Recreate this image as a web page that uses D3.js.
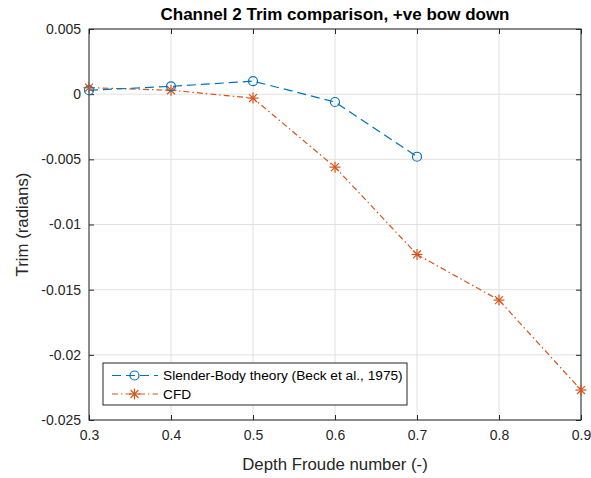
<!DOCTYPE html>
<html>
<head>
<meta charset="utf-8">
<script src="https://cdn.jsdelivr.net/npm/d3@7"></script>
<style>
  html, body { margin: 0; padding: 0; background: #fff; }
  svg { display: block; font-family: "Liberation Sans", Arial, Helvetica, sans-serif; }
</style>
</head>
<body>
<svg id="chart" width="591" height="478"></svg>
<script>
// Depth Froude numbers and trim values (radians, +ve bow down)
const froudeSBT = [0.3, 0.4, 0.5, 0.6, 0.7];
const trimSBT   = [0.0003, 0.0006, 0.001, -0.0006, -0.0048];
const froudeCFD = [0.3, 0.4, 0.5, 0.6, 0.7, 0.8, 0.9];
const trimCFD   = [0.0005, 0.0003, -0.0003, -0.0056, -0.0123, -0.0158, -0.0227];
const xTicks = [0.3, 0.4, 0.5, 0.6, 0.7, 0.8, 0.9];
const yTicks = [0.005, 0, -0.005, -0.01, -0.015, -0.02, -0.025];
const seriesNames = ["Slender-Body theory (Beck et al., 1975)", "CFD"];

const plotL = 89, plotR = 581, plotT = 29, plotB = 420;
const svg = d3.select("#chart");

const x = d3.scaleLinear().domain([0.3, 0.9]).range([plotL, plotR]);
const y = d3.scaleLinear().domain([-0.025, 0.005]).range([plotB, plotT]);

// grid
const grid = svg.append("g").attr("stroke", "#e0e0e0").attr("stroke-width", 1);
xTicks.forEach(t => grid.append("line")
  .attr("x1", x(t)).attr("x2", x(t)).attr("y1", plotT).attr("y2", plotB));
yTicks.forEach(t => grid.append("line")
  .attr("x1", plotL).attr("x2", plotR).attr("y1", y(t)).attr("y2", y(t)));

// axes with inward ticks on all four sides
const fmt = d => d === 0 ? "0" : String(+d.toFixed(3));
const axisColor = "#262626";
function styleAxis(g) {
  g.selectAll(".domain").remove();
  g.selectAll(".tick line").attr("stroke", axisColor);
  g.selectAll(".tick text").attr("fill", axisColor).attr("font-size", 14)
    .attr("font-family", "Liberation Sans, Arial, sans-serif");
}
svg.append("g").attr("transform", `translate(0,${plotB})`)
  .call(d3.axisBottom(x).tickValues(xTicks).tickFormat(d => d.toFixed(1)).tickSizeInner(-5).tickSizeOuter(0).tickPadding(10))
  .call(styleAxis);
svg.append("g").attr("transform", `translate(0,${plotT})`)
  .call(d3.axisTop(x).tickValues(xTicks).tickFormat("").tickSizeInner(-5).tickSizeOuter(0))
  .call(styleAxis);
svg.append("g").attr("transform", `translate(${plotL},0)`)
  .call(d3.axisLeft(y).tickValues(yTicks).tickFormat(fmt).tickSizeInner(-5).tickSizeOuter(0).tickPadding(8))
  .call(styleAxis);
svg.append("g").attr("transform", `translate(${plotR},0)`)
  .call(d3.axisRight(y).tickValues(yTicks).tickFormat("").tickSizeInner(-5).tickSizeOuter(0))
  .call(styleAxis);

svg.append("rect").attr("x", plotL).attr("y", plotT)
  .attr("width", plotR - plotL).attr("height", plotB - plotT)
  .attr("fill", "none").attr("stroke", axisColor).attr("stroke-width", 1);

// series
const blue = "#0072BD", orange = "#D95319";
const line = d3.line().x(d => x(d[0])).y(d => y(d[1]));
const sbt = froudeSBT.map((f, i) => [f, trimSBT[i]]);
const cfd = froudeCFD.map((f, i) => [f, trimCFD[i]]);

function star(g, cx, cy, r, color) {
  const p = g.append("g").attr("stroke", color).attr("stroke-width", 1.2);
  p.append("line").attr("x1", cx - r).attr("x2", cx + r).attr("y1", cy).attr("y2", cy);
  p.append("line").attr("x1", cx).attr("x2", cx).attr("y1", cy - r).attr("y2", cy + r);
  const d = r * 0.72;
  p.append("line").attr("x1", cx - d).attr("x2", cx + d).attr("y1", cy - d).attr("y2", cy + d);
  p.append("line").attr("x1", cx - d).attr("x2", cx + d).attr("y1", cy + d).attr("y2", cy - d);
}

svg.append("path").datum(cfd).attr("d", line).attr("fill", "none")
  .attr("stroke", orange).attr("stroke-width", 1.2).attr("stroke-dasharray", "6,3,1.5,3");
const cfdMarks = svg.append("g");
cfd.forEach(d => star(cfdMarks, x(d[0]), y(d[1]), 5.5, orange));

svg.append("path").datum(sbt).attr("d", line).attr("fill", "none")
  .attr("stroke", blue).attr("stroke-width", 1.2).attr("stroke-dasharray", "9,5");
svg.append("g").selectAll("circle").data(sbt).join("circle")
  .attr("cx", d => x(d[0])).attr("cy", d => y(d[1])).attr("r", 4.5)
  .attr("fill", "none").attr("stroke", blue).attr("stroke-width", 1.2);

// legend
const lg = svg.append("g");
lg.append("rect").attr("x", 103).attr("y", 363).attr("width", 304).attr("height", 42)
  .attr("fill", "#fff").attr("stroke", axisColor).attr("stroke-width", 1);
const rows = [375.5, 394];
lg.append("line").attr("x1", 112).attr("x2", 158).attr("y1", rows[0]).attr("y2", rows[0])
  .attr("stroke", blue).attr("stroke-width", 1.2).attr("stroke-dasharray", "9,5");
lg.append("circle").attr("cx", 134.5).attr("cy", rows[0]).attr("r", 4.5)
  .attr("fill", "none").attr("stroke", blue).attr("stroke-width", 1.2);
lg.append("line").attr("x1", 112).attr("x2", 158).attr("y1", rows[1]).attr("y2", rows[1])
  .attr("stroke", orange).attr("stroke-width", 1.2).attr("stroke-dasharray", "6,3,1.5,3");
star(lg, 134.5, rows[1], 5.5, orange);
seriesNames.forEach((s, i) => lg.append("text")
  .attr("x", 163).attr("y", rows[i]).attr("dy", "0.35em")
  .attr("font-size", 13.7).attr("fill", "#000").text(s));

// title and axis labels
svg.append("text").attr("x", (plotL + plotR) / 2).attr("y", 20).attr("text-anchor", "middle")
  .attr("font-size", 17).attr("font-weight", "bold").attr("fill", "#000")
  .text("Channel 2 Trim comparison, +ve bow down");
svg.append("text").attr("x", (plotL + plotR) / 2).attr("y", 470).attr("text-anchor", "middle")
  .attr("font-size", 16.8).attr("fill", "#262626").text("Depth Froude number (-)");
svg.append("text").attr("transform", `translate(28,${(plotT + plotB) / 2}) rotate(-90)`)
  .attr("text-anchor", "middle").attr("font-size", 16.8).attr("fill", "#262626")
  .text("Trim (radians)");
</script>
</body>
</html>
